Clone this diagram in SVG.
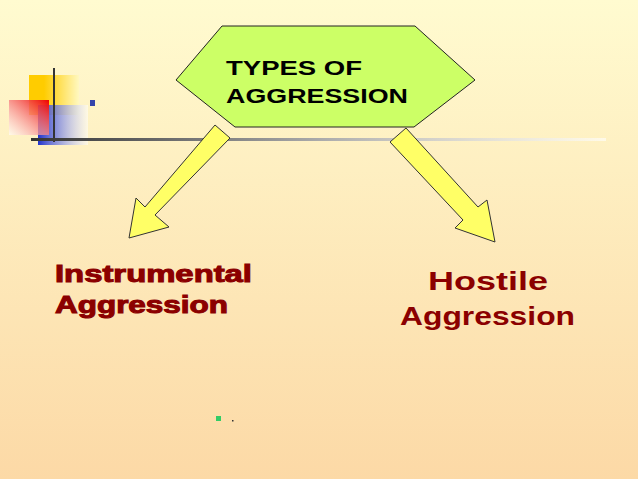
<svg xmlns="http://www.w3.org/2000/svg" width="638" height="479" viewBox="0 0 638 479">
<defs>
<linearGradient id="bg" x1="0" y1="0" x2="0" y2="1"><stop offset="0" stop-color="#fffbd0"/><stop offset="1" stop-color="#fcd9a6"/></linearGradient>
<linearGradient id="ln" x1="0" y1="0" x2="1" y2="0"><stop offset="0" stop-color="#333"/><stop offset="0.5" stop-color="#aaa"/><stop offset="1" stop-color="#fff" stop-opacity="0.6"/></linearGradient>
<linearGradient id="red" x1="1" y1="0" x2="0" y2="1"><stop offset="0" stop-color="#e00"/><stop offset="1" stop-color="#fff" stop-opacity="0.6"/></linearGradient>
<linearGradient id="blue" x1="0" y1="0" x2="1" y2="0"><stop offset="0" stop-color="#2233cc"/><stop offset="1" stop-color="#fff" stop-opacity="0.5"/></linearGradient>
<linearGradient id="yel" x1="0" y1="0" x2="1" y2="0"><stop offset="0.3" stop-color="#ffcc00"/><stop offset="1" stop-color="#fff8c0"/></linearGradient>
<style>.arr{fill:#ffff66;stroke:#333;stroke-width:1}.t{font-family:"Liberation Sans",Arial,sans-serif;font-weight:bold}.r{fill:#8b0000}</style>
</defs>
<rect width="638" height="479" fill="url(#bg)"/>
<g id="deco">
<rect x="29" y="75" width="50" height="40" fill="url(#yel)"/>
<rect x="38" y="105" width="50" height="40" fill="url(#blue)"/>
<rect x="9" y="100" width="40" height="35" fill="url(#red)"/>
<rect x="90" y="100" width="5" height="6" fill="#3344aa"/>
<line x1="54" y1="68" x2="54" y2="142" stroke="#333" stroke-width="2"/>
<rect x="31" y="138" width="575" height="3" fill="url(#ln)"/>
</g>
<g id="types">
<polygon points="176,80 222,26 415,26 475,80 414,127 235,127" fill="#ccff66" stroke="#222" stroke-width="1"/>
<text class="t" x="226" y="75" font-size="21" textLength="136" lengthAdjust="spacingAndGlyphs">TYPES OF</text>
<text class="t" x="226" y="103" font-size="21" textLength="182" lengthAdjust="spacingAndGlyphs">AGGRESSION</text>
</g>
<g id="connectors">
<polygon class="arr" points="215,125 230,138 155,215 169,227 129,238 136,198 145,207"/>
<polygon class="arr" points="406,128 390,142 463,220 455,228 495,242 487,200 478,207"/>
</g>
<g id="instrumental">
<text class="t r" x="55" y="282" font-size="23" stroke="#8b0000" stroke-width="1" textLength="197" lengthAdjust="spacingAndGlyphs">Instrumental</text>
<text class="t r" x="55" y="313" font-size="23" stroke="#8b0000" stroke-width="1" textLength="173" lengthAdjust="spacingAndGlyphs">Aggression</text>
</g>
<g id="hostile">
<text class="t r" x="428" y="290" font-size="25" textLength="120" lengthAdjust="spacingAndGlyphs">Hostile</text>
<text class="t r" x="400" y="325" font-size="25" textLength="175" lengthAdjust="spacingAndGlyphs">Aggression</text>
</g>
<rect x="216" y="416" width="5" height="5" fill="#33cc66"/>
<rect x="232" y="420" width="1.5" height="1.5" fill="#333"/>
</svg>
